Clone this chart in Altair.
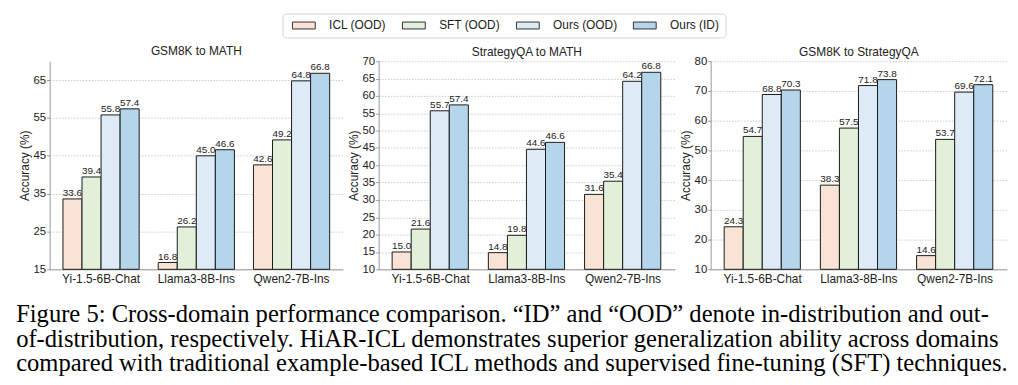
import altair as alt
import pandas as pd

models = ["Yi-1.5-6B-Chat", "Llama3-8B-Ins", "Qwen2-7B-Ins"]
methods = ["ICL (OOD)", "SFT (OOD)", "Ours (OOD)", "Ours (ID)"]
colors = ["#f9e3d4", "#e2efd9", "#deebf6", "#b5d5ea"]

titles = ["GSM8K to MATH", "StrategyQA to MATH", "GSM8K to StrategyQA"]

gsm_math_icl = [33.6, 16.8, 42.6]
gsm_math_sft = [39.4, 26.2, 49.2]
gsm_math_ood = [55.8, 45.0, 64.8]
gsm_math_id = [57.4, 46.6, 66.8]

sqa_math_icl = [15.0, 14.8, 31.6]
sqa_math_sft = [21.6, 19.8, 35.4]
sqa_math_ood = [55.7, 44.6, 64.2]
sqa_math_id = [57.4, 46.6, 66.8]

gsm_sqa_icl = [24.3, 38.3, 14.6]
gsm_sqa_sft = [54.7, 57.5, 53.7]
gsm_sqa_ood = [68.8, 71.8, 69.6]
gsm_sqa_id = [70.3, 73.8, 72.1]

y_domains = [[15, 70], [10, 70], [10, 80]]
y_ticks = [[15, 25, 35, 45, 55, 65],
           [10, 15, 20, 25, 30, 35, 40, 45, 50, 55, 60, 65, 70],
           [10, 20, 30, 40, 50, 60, 70, 80]]
panel_widths = [296, 299, 299]
title_offsets = [3, -3.5, -3.5]

caption = [
    "Figure 5: Cross-domain performance comparison. \u201cID\u201d and \u201cOOD\u201d denote in-distribution and out-",
    "of-distribution, respectively. HiAR-ICL demonstrates superior generalization ability across domains",
    "compared with traditional example-based ICL methods and supervised fine-tuning (SFT) techniques.",
]

SANS = "Liberation Sans"
TXT = "#222222"

series_sets = [
    [gsm_math_icl, gsm_math_sft, gsm_math_ood, gsm_math_id],
    [sqa_math_icl, sqa_math_sft, sqa_math_ood, sqa_math_id],
    [gsm_sqa_icl, gsm_sqa_sft, gsm_sqa_ood, gsm_sqa_id],
]

legend = alt.Legend(
    title=None, orient="none", legendX=235, legendY=-48,
    direction="horizontal",
    symbolType="M-0.5,-0.875H5.25V0.875H-0.5Z", symbolSize=64,
    symbolStrokeColor="#333333", symbolStrokeWidth=1, symbolOpacity=1,
    labelFontSize=12, labelFont=SANS, labelColor=TXT, labelOffset=29,
    columnPadding=12, padding=6, strokeColor="#d4d4d4", cornerRadius=3,
    fillColor="white",
)


def panel(i):
    rows = []
    for m, vals in zip(methods, series_sets[i]):
        for model, v in zip(models, vals):
            rows.append({"model": model, "method": m, "value": v,
                         "base": y_domains[i][0], "label": f"{v:.1f}"})
    df = pd.DataFrame(rows)

    base = alt.Chart(df).encode(
        x=alt.X("model:N", sort=models,
                scale=alt.Scale(paddingInner=0.2, paddingOuter=0.14),
                axis=alt.Axis(title=None, labelAngle=0, ticks=False,
                              labelFontSize=12, labelFont=SANS, labelColor=TXT,
                              labelPadding=4, domainColor="#999999", grid=False)),
        xOffset=alt.XOffset("method:N", sort=methods,
                            scale=alt.Scale(paddingInner=0, paddingOuter=0)),
    )

    yscale = alt.Scale(domain=y_domains[i], zero=False, nice=False)
    bars = base.mark_bar(stroke="#1a1a1a", strokeWidth=1).encode(
        y=alt.Y("value:Q", scale=yscale,
                axis=alt.Axis(title="Accuracy (%)", values=y_ticks[i],
                              tickCount=len(y_ticks[i]), labelOverlap=False,
                              titleFontSize=12, titleFont=SANS, titleColor=TXT,
                              titleFontWeight="normal", titlePadding=2,
                              labelFontSize=11.5, labelFont=SANS, labelColor=TXT,
                              labelPadding=1, tickSize=3, tickColor="#999999",
                              domainColor="#999999", grid=True,
                              gridDash=[1.5, 1.5], gridColor="#bdbdbd", gridWidth=0.8)),
        y2="base:Q",
        color=alt.Color("method:N", sort=methods,
                        scale=alt.Scale(domain=methods, range=colors),
                        legend=legend),
    )
    text = base.mark_text(baseline="bottom", dy=-1, fontSize=10, font=SANS,
                          color=TXT).encode(
        y=alt.Y("value:Q", scale=yscale),
        text="label:N",
    )
    return alt.layer(bars, text).properties(
        width=panel_widths[i], height=210,
        title=alt.TitleParams(titles[i], fontSize=12, font=SANS,
                              fontWeight="normal", color=TXT,
                              offset=title_offsets[i]),
    )


chart = alt.hconcat(panel(0), panel(1), panel(2), spacing=4).resolve_scale(
    color="shared", y="independent", x="independent"
).properties(
    padding={"left": 8, "top": 3, "right": 0, "bottom": 0},
    title=alt.TitleParams(caption, orient="bottom", anchor="start",
                          font="Liberation Serif", fontSize=24.8,
                          fontWeight="normal", color="black",
                          lineHeight=25, offset=18, dx=-2),
).configure_view(stroke=None)

chart.save("out.html", embed_options={"renderer": "svg", "actions": False})
